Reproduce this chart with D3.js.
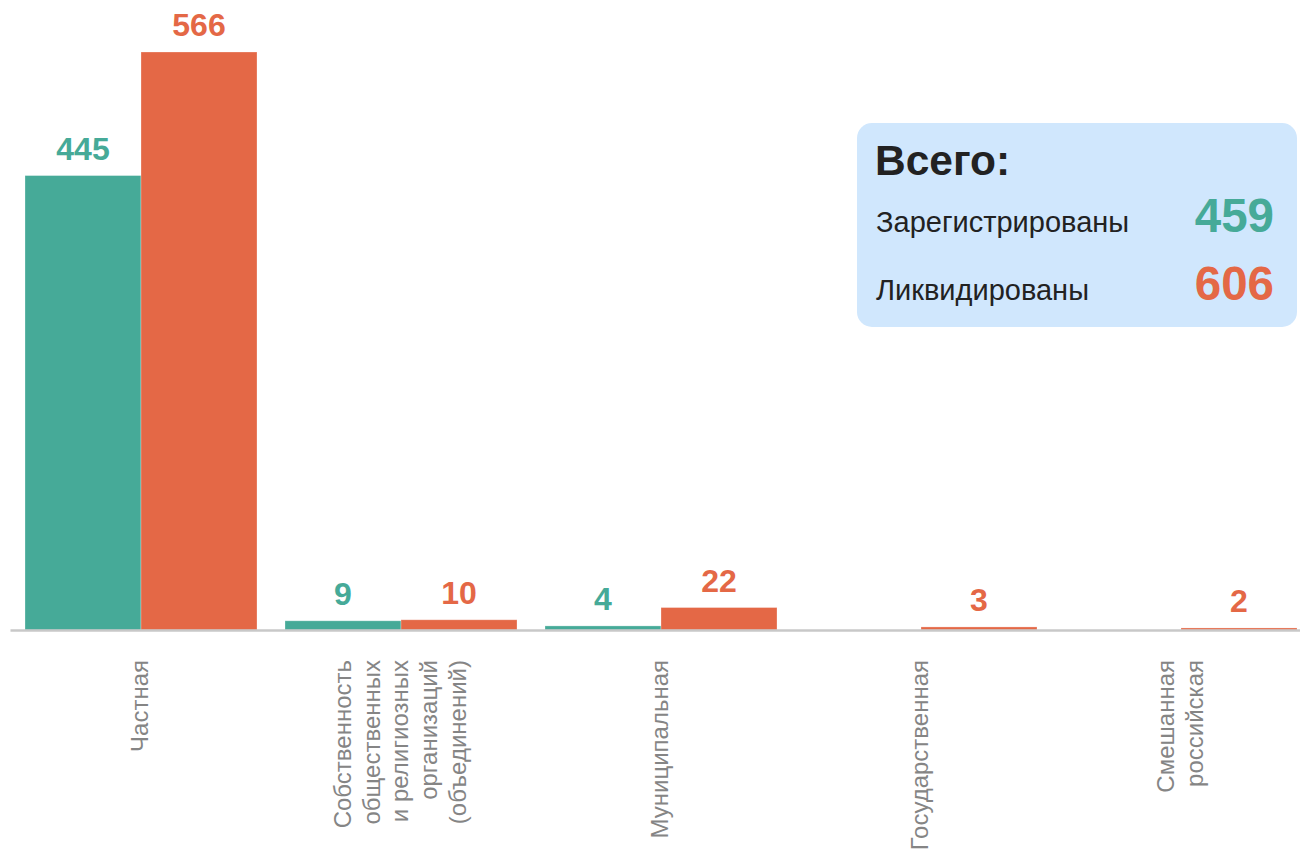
<!DOCTYPE html>
<html>
<head>
<meta charset="utf-8">
<script src="https://cdn.jsdelivr.net/npm/d3@7"></script>
<style>
  html, body { margin: 0; padding: 0; background: #fff; }
  svg { display: block; font-family: "Liberation Sans", Arial, sans-serif; }
</style>
</head>
<body>
<svg id="chart" width="1300" height="853"></svg>
<script>
// ---- data ----
const categories = ["Частная", "Собственность общественных и религиозных организаций (объединений)", "Муниципальная", "Государственная", "Смешанная российская"];
const categoryLines = [
  ["Частная"],
  ["Собственность", "общественных", "и религиозных", "организаций", "(объединений)"],
  ["Муниципальная"],
  ["Государственная"],
  ["Смешанная", "российская"]
];
const seriesNames = ["Зарегистрированы", "Ликвидированы"];
const registered = [445, 9, 4, 0, 0];
const liquidated = [566, 10, 22, 3, 2];
const totalsTitle = "Всего:";
const totals = [459, 606];

// ---- styles ----
const colors = { "Зарегистрированы": "#46aa98", "Ликвидированы": "#e46846" };

const svg = d3.select("#chart");
const baseY = 630;

const x0 = d3.scaleBand().domain(categories).range([10, 1310]).padding(0);
const x1 = d3.scaleBand().domain(seriesNames).range([15, 247]).padding(0);
const y = d3.scaleLinear().domain([0, 566]).range([baseY, 52]);

const rows = categories.map((c, i) => ({
  cat: c,
  values: [
    { s: seriesNames[0], v: registered[i] },
    { s: seriesNames[1], v: liquidated[i] }
  ]
}));

// bars
const groups = svg.append("g").selectAll("g").data(rows).join("g")
  .attr("transform", d => `translate(${x0(d.cat)},0)`);

groups.selectAll("rect").data(d => d.values.filter(e => e.v > 0)).join("rect")
  .attr("x", d => x1(d.s))
  .attr("width", x1.bandwidth())
  .attr("y", d => y(d.v))
  .attr("height", d => baseY - y(d.v))
  .attr("fill", d => colors[d.s])
  .attr("stroke", "#ffffff")
  .attr("stroke-opacity", 0.35)
  .attr("stroke-width", 0.8);

// value labels
groups.selectAll("text.val").data(d => d.values.filter(e => e.v > 0)).join("text")
  .attr("class", "val")
  .attr("x", d => x1(d.s) + x1.bandwidth() / 2)
  .attr("y", d => y(d.v) - 16)
  .attr("text-anchor", "middle")
  .attr("font-size", 32)
  .attr("font-weight", "bold")
  .attr("fill", d => colors[d.s])
  .text(d => d.v);

// x axis
const axis = svg.append("g")
  .attr("transform", `translate(0,${baseY})`)
  .call(d3.axisBottom(x0).tickSize(0).tickFormat(""));
axis.select(".domain").attr("stroke", "#c8c8c8").attr("stroke-width", 2.5);

axis.selectAll(".tick").each(function(d) {
  const i = categories.indexOf(d);
  const lines = categoryLines[i];
  const g = d3.select(this);
  g.select("text").remove();
  const n = lines.length;
  const spacing = 28.7;
  lines.forEach((ln, k) => {
    g.append("text")
      .attr("transform", "rotate(-90)")
      .attr("x", -30)
      .attr("y", (k - (n - 1) / 2) * spacing)
      .attr("dy", "0.35em")
      .attr("text-anchor", "end")
      .attr("font-size", 24)
      .attr("fill", "#858585")
      .text(ln);
  });
});

// totals box
const box = svg.append("g");
box.append("rect")
  .attr("x", 857).attr("y", 123)
  .attr("width", 440).attr("height", 204)
  .attr("rx", 15).attr("ry", 15)
  .attr("fill", "#d0e7fd");
box.append("text")
  .attr("x", 875).attr("y", 175)
  .attr("font-size", 42.5).attr("font-weight", "bold")
  .attr("fill", "#222")
  .text(totalsTitle);
const rowY = [232, 300];
seriesNames.forEach((s, i) => {
  box.append("text")
    .attr("x", 876).attr("y", rowY[i])
    .attr("font-size", 29)
    .attr("fill", "#222")
    .text(s);
  box.append("text")
    .attr("x", 1274).attr("y", rowY[i])
    .attr("text-anchor", "end")
    .attr("font-size", 47.5).attr("font-weight", "bold")
    .attr("fill", colors[s])
    .text(totals[i]);
});
</script>
</body>
</html>
